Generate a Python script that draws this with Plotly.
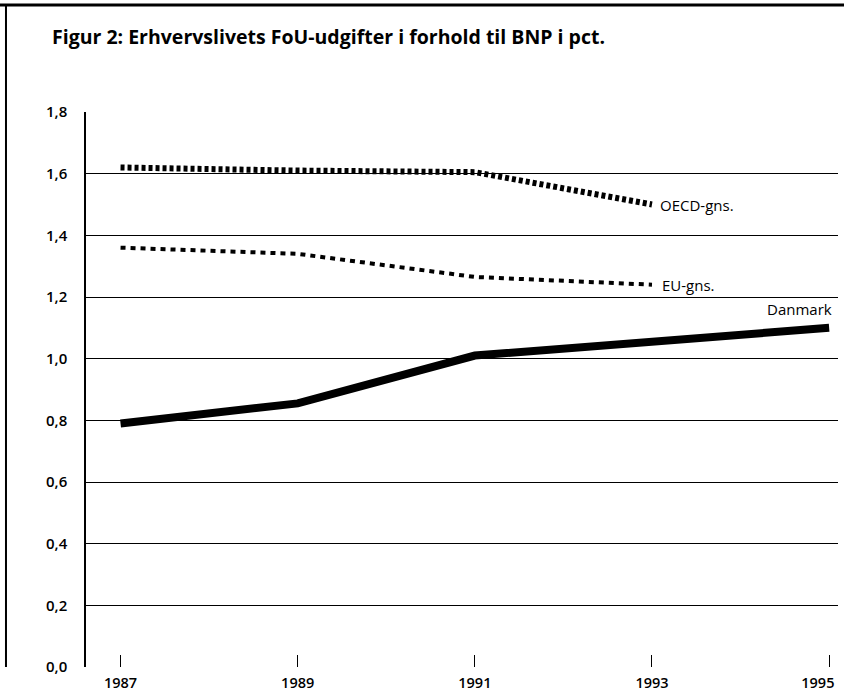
import plotly.graph_objects as go

years = [1987, 1989, 1991, 1993, 1995]
danmark = [0.79, 0.855, 1.01, 1.055, 1.10]
oecd_years = [1987, 1989, 1991, 1993]
oecd = [1.62, 1.61, 1.605, 1.50]
eu_years = [1987, 1989, 1991, 1993]
eu = [1.36, 1.34, 1.265, 1.24]
y_ticks = [0.0, 0.2, 0.4, 0.6, 0.8, 1.0, 1.2, 1.4, 1.6, 1.8]
y_ticktext = ["0,0", "0,2", "0,4", "0,6", "0,8", "1,0", "1,2", "1,4", "1,6", "1,8"]
x_ticks = [1987, 1989, 1991, 1993, 1995]
x_ticktext = ["1987", "1989", "1991", "1993", "1995\u00a0\u00a0\u00a0\u00a0\u00a0\u00a0"]
title = "Figur 2: Erhvervslivets FoU-udgifter i forhold til BNP i pct."

FONT = "Open Sans"

fig = go.Figure()
fig.add_trace(go.Scatter(x=oecd_years, y=oecd, mode="lines",
                         line=dict(color="black", width=6, dash="4px,3px"),
                         name="OECD-gns.", showlegend=False))
fig.add_trace(go.Scatter(x=eu_years, y=eu, mode="lines",
                         line=dict(color="black", width=4, dash="5px,5px"),
                         name="EU-gns.", showlegend=False))
fig.add_trace(go.Scatter(x=years, y=danmark, mode="lines",
                         line=dict(color="black", width=8),
                         name="Danmark", showlegend=False))

fig.add_annotation(x=oecd_years[-1], y=oecd[-1], text="OECD-gns.", showarrow=False,
                   xanchor="left", yanchor="middle", xshift=6, yshift=0,
                   font=dict(family=FONT, size=15, color="black"))
fig.add_annotation(x=eu_years[-1], y=eu[-1], text="EU-gns.", showarrow=False,
                   xanchor="left", yanchor="middle", xshift=8, yshift=0,
                   font=dict(family=FONT, size=15, color="black"))
fig.add_annotation(x=years[-1], y=danmark[-1], text="Danmark", showarrow=False,
                   xanchor="right", yanchor="middle", xshift=5, yshift=19,
                   font=dict(family=FONT, size=15, color="black", weight=500))

# outer frame lines (top and left)
fig.add_shape(type="line", xref="paper", yref="paper",
              x0=-0.115, x1=1.02, y0=1.1928, y1=1.1928,
              line=dict(color="black", width=3))
fig.add_shape(type="line", xref="paper", yref="paper",
              x0=-0.1064, x1=-0.1064, y0=1.1928, y1=0.0,
              line=dict(color="black", width=2))

fig.update_layout(
    width=844, height=693,
    margin=dict(l=86, r=6, t=112, b=26),
    paper_bgcolor="white", plot_bgcolor="white",
    font=dict(family=FONT, size=15, color="black"),
    title=dict(text="<b>" + title + "</b>", x=52/844, xref="container",
               y=1 - 37/693, xanchor="left", yanchor="middle", automargin=False,
               font=dict(family=FONT, size=19.5, color="black")),
    showlegend=False,
)
fig.update_xaxes(range=[1986.61, 1995.1], tickvals=x_ticks, ticktext=x_ticktext,
                 automargin=False,
                 ticks="inside", ticklen=12, tickcolor="black", tickwidth=1,
                 showgrid=False, zeroline=False, showline=False,
                 ticklabelstandoff=5, ticklabeloverflow="allow",
                 tickfont=dict(family=FONT, size=14.5, color="black", weight=600))
fig.update_yaxes(range=[0, 1.8], tickvals=y_ticks, ticktext=y_ticktext, automargin=False,
                 showgrid=True, gridcolor="black", gridwidth=1,
                 zeroline=False, showline=True, linecolor="black", linewidth=1.5,
                 ticks="", ticklabelstandoff=14,
                 tickfont=dict(family=FONT, size=15, color="black", weight=600))

fig.write_html("out.html", config={"displayModeBar": False},
               post_script="document.body.style.margin='0';document.body.style.overflow='hidden';")
